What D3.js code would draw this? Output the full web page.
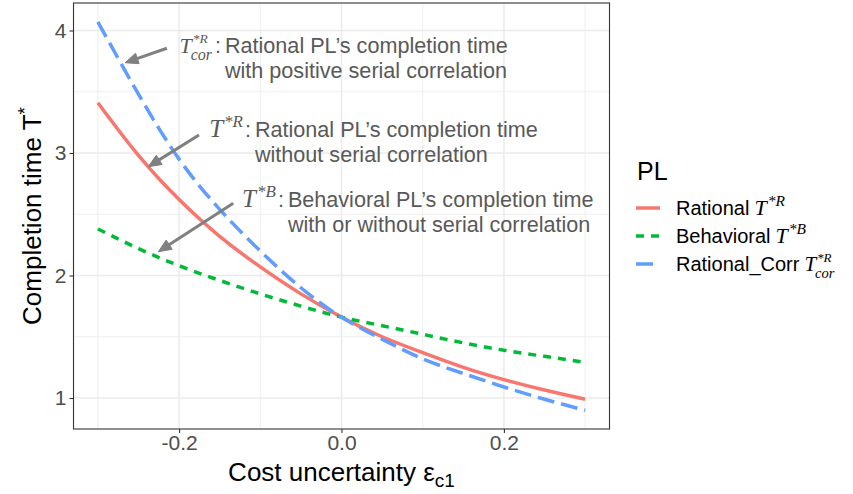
<!DOCTYPE html>
<html><head><meta charset="utf-8">
<script src="https://cdn.jsdelivr.net/npm/d3@7"></script>
<style>body{margin:0;background:#fff} svg{display:block;font-family:"Liberation Sans",Arial,sans-serif}</style>
</head><body><svg id="c" width="853" height="494"></svg>
<script>
// ---- data ----
const eps = [-0.3,-0.25,-0.2,-0.15,-0.1,-0.05,0,0.05,0.1,0.15,0.2,0.25,0.3];
const rational = [3.41,2.98,2.62,2.32,2.07,1.85,1.66,1.50,1.37,1.25,1.15,1.065,0.99];
const behavioral = [2.38,2.22,2.08,1.96,1.85,1.75,1.66,1.59,1.52,1.45,1.39,1.34,1.29];
const rationalCorr = [4.07,3.48,2.95,2.54,2.20,1.90,1.66,1.48,1.32,1.20,1.09,0.99,0.90];
const seriesNames = ["Rational","Behavioral","Rational_Corr"];
const xTicks = [-0.2,0,0.2];
const xMinor = [-0.3,-0.1,0.1,0.3];
const yTicks = [1,2,3,4];
const yMinor = [1.5,2.5,3.5];
// annotation anchors in data coordinates
const arrowFrom = [[-0.215,3.855],[-0.1755,3.147],[-0.1333,2.589]];
const arrowTo = [[-0.2665,3.737],[-0.238,2.888],[-0.2256,2.194]];
const annoAt = [[-0.1435,3.816],[-0.1066,3.131],[-0.066,2.559]];
const annoLine1 = ["Rational PL\u2019s completion time","Rational PL\u2019s completion time","Behavioral PL\u2019s completion time"];
const annoLine2 = ["with positive serial correlation","without serial correlation","with or without serial correlation"];
const annoSup = ["*R","*R","*B"];
const annoSub = ["cor","",""];
const legSup = ["*R","*B","*R"];
const legSub = ["","","cor"];

// ---- styles ----
const colors = ["#F8766D","#00BA38","#619CFF"];
const dashes = [null,"8,7","17,7"];
const serif = "'Liberation Serif','Times New Roman',serif";

const svg = d3.select("#c");
const x = d3.scaleLinear().domain([-0.33,0.33]).range([73.5,609.5]);
const y = d3.scaleLinear().domain([0.747,4.2245]).range([429,3]);
const [L,R] = x.range(), [B,T] = y.range();

// grid
const grid = svg.append("g");
grid.selectAll(".vmin").data(xMinor).join("line").attr("x1",d=>x(d)).attr("x2",d=>x(d)).attr("y1",T).attr("y2",B).attr("stroke","#ebebeb").attr("stroke-width",0.8);
grid.selectAll(".hmin").data(yMinor).join("line").attr("y1",d=>y(d)).attr("y2",d=>y(d)).attr("x1",L).attr("x2",R).attr("stroke","#ebebeb").attr("stroke-width",0.8);
grid.selectAll(".vmaj").data(xTicks).join("line").attr("x1",d=>x(d)).attr("x2",d=>x(d)).attr("y1",T).attr("y2",B).attr("stroke","#ebebeb").attr("stroke-width",1.5);
grid.selectAll(".hmaj").data(yTicks).join("line").attr("y1",d=>y(d)).attr("y2",d=>y(d)).attr("x1",L).attr("x2",R).attr("stroke","#ebebeb").attr("stroke-width",1.5);

// lines
const series = [rational,behavioral,rationalCorr];
const line = d3.line().x((d,i)=>x(eps[i])).y(d=>y(d)).curve(d3.curveNatural);
svg.append("g").selectAll("path").data(series).join("path")
  .attr("d",d=>line(d)).attr("fill","none")
  .attr("stroke",(d,i)=>colors[i]).attr("stroke-width",3.5)
  .attr("stroke-dasharray",(d,i)=>dashes[i]);

// arrows
const ag = svg.append("g");
arrowFrom.forEach((f,i)=>{
  const x1=x(f[0]), y1=y(f[1]), x2=x(arrowTo[i][0]), y2=y(arrowTo[i][1]);
  const dx=x2-x1, dy=y2-y1, len=Math.hypot(dx,dy), ux=dx/len, uy=dy/len;
  const hl=13, hw=5.5;
  const bx=x2-ux*hl, by=y2-uy*hl;
  ag.append("line").attr("x1",x1).attr("y1",y1).attr("x2",bx+ux*2).attr("y2",by+uy*2)
    .attr("stroke","#808080").attr("stroke-width",3);
  ag.append("path").attr("d",`M${x2},${y2}L${bx-uy*hw},${by+ux*hw}L${bx+uy*hw},${by-ux*hw}Z`)
    .attr("fill","#808080").attr("stroke","#808080").attr("stroke-width",1);
});

// math label builder: T^{sup}_{sub}[suffix] as one text element
function mathLabel(parent, sup, sub, baseY, opts){
  const hasSub = sub !== "";
  const t = parent.append("text").attr("y",baseY).attr("fill",opts.fill);
  const tT = t.append("tspan").attr("font-family",serif).attr("font-style","italic").attr("font-size",opts.tSize).text("T");
  const tSup = t.append("tspan").attr("font-family",serif).attr("font-style","italic").attr("font-size",hasSub?opts.sSize2:opts.sSize).text(sup);
  let tSub = null;
  if(hasSub) tSub = t.append("tspan").attr("font-family",serif).attr("font-style","italic").attr("font-size",opts.bSize).text(sub);
  let tSuf = null;
  if(opts.suffix) tSuf = t.append("tspan").attr("font-size",opts.sufSize).text(opts.suffix);
  const wT = tT.node().getComputedTextLength();
  const wS = tSup.node().getComputedTextLength();
  const wB = tSub ? tSub.node().getComputedTextLength() : 0;
  const wF = tSuf ? tSuf.node().getComputedTextLength() : 0;
  const scriptW = Math.max(wS+1, wB);
  const total = wT + scriptW + (tSuf ? 2 + wF : 0);
  const x0 = opts.xEnd !== undefined ? opts.xEnd - total : opts.x0;
  tT.attr("x",x0).attr("y",baseY);
  tSup.attr("x",x0+wT+1).attr("y",baseY-(hasSub?opts.supUp2:opts.supUp));
  if(tSub) tSub.attr("x",x0+wT-1).attr("y",baseY+opts.subDown);
  if(tSuf) tSuf.attr("x",x0+wT+scriptW+2).attr("y",baseY);
  return t;
}

// annotation texts
const tg = svg.append("g").attr("fill","#595959");
annoAt.forEach((p,i)=>{
  const tx=x(p[0]), ty=y(p[1]);
  tg.append("text").attr("x",tx).attr("y",ty).attr("font-size",21.6).text(annoLine1[i]);
  tg.append("text").attr("x",tx).attr("y",ty+25).attr("font-size",21.6).text(annoLine2[i]);
  const hasSub = annoSub[i] !== "";
  mathLabel(tg, annoSup[i], annoSub[i], ty, {xEnd: tx-4, fill:"#595959", tSize: hasSub?22:25, sSize:17, sSize2:13.5, bSize:16,
    supUp:10, supUp2:10.5, subDown:6.5, suffix:":", sufSize:21.6});
});

// panel border
svg.append("rect").attr("x",L).attr("y",T).attr("width",R-L).attr("height",B-T).attr("fill","none").attr("stroke","#333333").attr("stroke-width",1.1);

// axes
const fmt = d=>d3.format(".1f")(d).replace("\u2212","-");
const xa = svg.append("g").attr("transform",`translate(0,${B})`)
  .call(d3.axisBottom(x).tickValues(xTicks).tickSize(4).tickPadding(2).tickFormat(fmt));
const ya = svg.append("g").attr("transform",`translate(${L},0)`)
  .call(d3.axisLeft(y).tickValues(yTicks).tickSize(4).tickPadding(3).tickFormat(d3.format("d")));
[xa,ya].forEach(a=>{
  a.select(".domain").remove();
  a.selectAll(".tick line").attr("stroke","#333333").attr("stroke-width",1.1);
  a.selectAll(".tick text").attr("fill","#4d4d4d").attr("font-size",21).attr("font-family","'Liberation Sans',Arial,sans-serif");
});

// axis titles
const xt = svg.append("text").attr("x",(L+R)/2).attr("y",481).attr("text-anchor","middle").attr("font-size",26).attr("fill","#000");
xt.append("tspan").text("Cost uncertainty \u03b5");
xt.append("tspan").attr("font-size",19).attr("dy",6).text("c1");
const yt = svg.append("text").attr("transform",`translate(41,${(T+B)/2}) rotate(-90)`).attr("text-anchor","middle").attr("font-size",26).attr("fill","#000");
yt.append("tspan").text("Completion time T");
yt.append("tspan").attr("font-size",19).attr("dy",-10).text("*");

// legend
const lg = svg.append("g");
lg.append("text").attr("x",637).attr("y",180).attr("font-size",25).attr("fill","#000").text("PL");
seriesNames.forEach((n,i)=>{
  const ky = 208 + i*28;
  lg.append("line").attr("x1",636).attr("x2",660).attr("y1",ky).attr("y2",ky)
    .attr("stroke",colors[i]).attr("stroke-width",3.5).attr("stroke-dasharray",dashes[i]);
  const t = lg.append("text").attr("x",676).attr("y",ky+7).attr("font-size",20).attr("fill","#000").text(n);
  const w = t.node().getComputedTextLength();
  const hasSub = legSub[i]!=="";
  mathLabel(lg, legSup[i], legSub[i], ky+7, {x0: 676+w+5, fill:"#000", tSize: hasSub?21:22, sSize:15.5, sSize2:13, bSize:14.5,
    supUp:9, supUp2:9.5, subDown:6.5});
});
</script></body></html>
